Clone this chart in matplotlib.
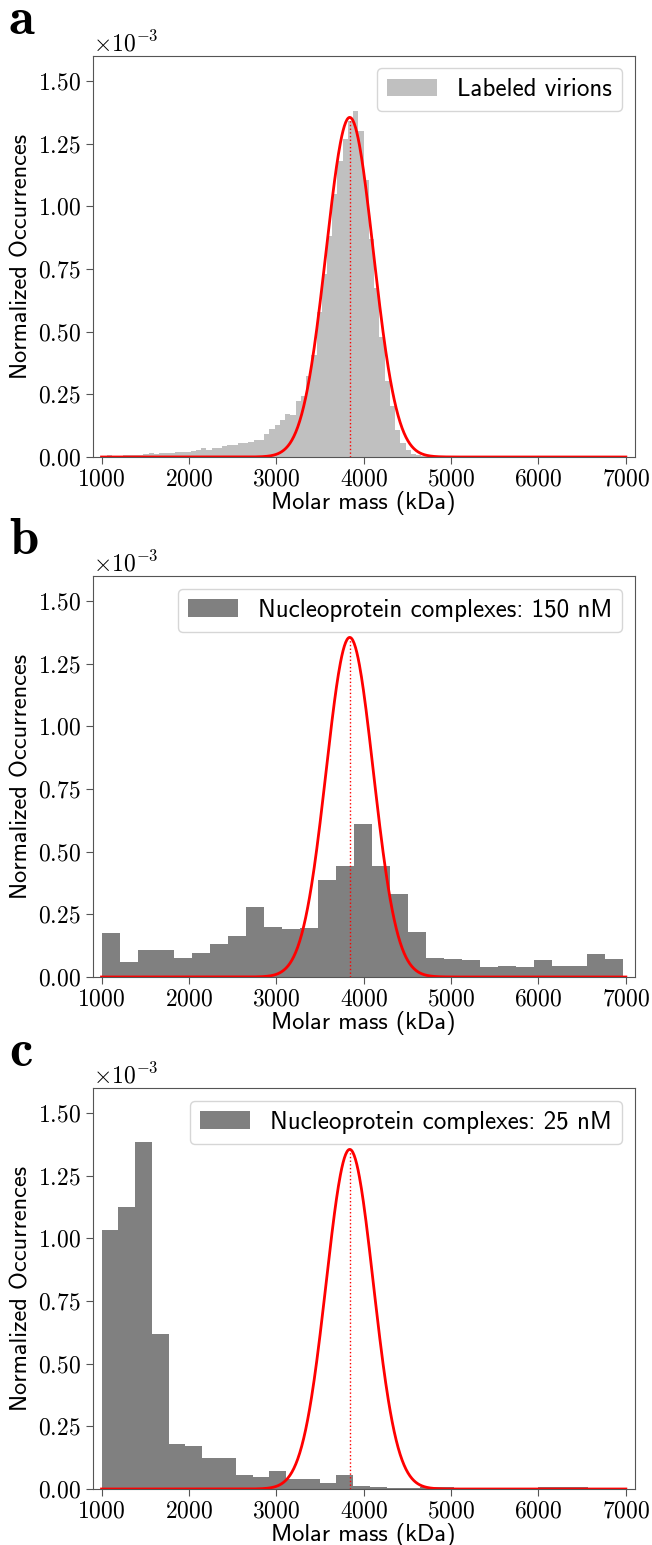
import numpy as np
import matplotlib
matplotlib.use("Agg")
import matplotlib.pyplot as plt
from matplotlib.ticker import ScalarFormatter

# histogram heights in units of 1e-3 (normalized occurrences)
SCALE = 1e-3

# a: labeled virions, 100 bins of 60 kDa from 1000 to 7000
virions = [0.005, 0.006, 0.005, 0.005, 0.006, 0.008, 0.008, 0.009, 0.012, 0.016,
           0.011, 0.016, 0.016, 0.017, 0.019, 0.019, 0.019, 0.024, 0.029, 0.035,
           0.028, 0.036, 0.036, 0.043, 0.048, 0.048, 0.057, 0.057, 0.058, 0.068,
           0.068, 0.092, 0.110, 0.129, 0.146, 0.172, 0.166, 0.222, 0.242, 0.325,
           0.405, 0.580, 0.730, 0.880, 1.050, 1.180, 1.270, 1.340, 1.380, 1.300,
           1.107, 0.868, 0.675, 0.479, 0.302, 0.202, 0.109, 0.056, 0.029, 0.013,
           0.006, 0.004, 0.003, 0.003, 0.002, 0.002, 0.003, 0.002, 0.002, 0.002,
           0.002, 0.002, 0.002, 0.002, 0.002, 0.001, 0.002, 0.002, 0.002, 0.001,
           0.002, 0.002, 0.001, 0.002, 0.002, 0.002, 0.001, 0.002, 0.002, 0.002,
           0.002, 0.004, 0.002, 0.002, 0.002, 0.002, 0.002, 0.002, 0.002, 0.002]
virions_range = (1000, 7000)

# b: nucleoprotein complexes 150 nM, 29 bins
np150 = [0.176, 0.061, 0.109, 0.109, 0.076, 0.097, 0.133, 0.165, 0.279, 0.201,
         0.190, 0.195, 0.388, 0.441, 0.610, 0.441, 0.331, 0.181, 0.077, 0.073,
         0.068, 0.041, 0.045, 0.041, 0.068, 0.045, 0.045, 0.093, 0.073]
np150_range = (1008, 6972)

# c: nucleoprotein complexes 25 nM, 29 bins
np25 = [1.033, 1.126, 1.383, 0.620, 0.178, 0.170, 0.124, 0.124, 0.055, 0.047,
        0.071, 0.039, 0.039, 0.023, 0.055, 0.013, 0.006, 0.005, 0.004, 0.008,
        0.008, 0.005, 0.005, 0.003, 0.003, 0.003, 0.007, 0.007, 0.007]
np25_range = (1000, 6568)

# gaussian fit of the virion peak
fit_mu = 3840
fit_sigma = 270
fit_amp = 1.355

panels = [
    ('a', virions, virions_range, 'silver', 'Labeled virions'),
    ('b', np150, np150_range, 'gray', 'Nucleoprotein complexes: 150 nM'),
    ('c', np25, np25_range, 'gray', 'Nucleoprotein complexes: 25 nM'),
]

plt.rcParams['mathtext.fontset'] = 'cm'
plt.rcParams['axes.formatter.use_mathtext'] = True
plt.rcParams['font.family'] = 'cmr10'
plt.rcParams['axes.unicode_minus'] = False
plt.rcParams['axes.edgecolor'] = '#555555'
plt.rcParams['xtick.color'] = '#555555'
plt.rcParams['ytick.color'] = '#555555'
plt.rcParams['xtick.labelcolor'] = 'black'
plt.rcParams['ytick.labelcolor'] = 'black'

FS = 17
fig = plt.figure(figsize=(6.52, 15.45), dpi=100)
H = 1545.0
W = 652.0
tops = [56, 576, 1088]
ax_h = 401

for (letter, vals, rng, color, label), top in zip(panels, tops):
    ax = fig.add_axes([92.8 / W, 1 - (top + ax_h) / H, (634.6 - 92.8) / W, ax_h / H])
    edges = np.linspace(rng[0], rng[1], len(vals) + 1)
    ax.hist(edges[:-1], bins=edges, weights=np.array(vals) * SCALE,
            color=color, label=label)
    xs = np.linspace(1000, 7000, 800)
    ys = fit_amp * SCALE * np.exp(-0.5 * ((xs - fit_mu) / fit_sigma) ** 2)
    ax.plot(xs, ys, color='red', lw=2)
    ax.vlines(fit_mu, 0, fit_amp * SCALE, colors='red', linestyles=':', lw=1)

    ax.set_xlim(900, 7100)
    ax.set_ylim(0, 1.6e-3)
    ax.set_xticks(np.arange(1000, 7001, 1000))
    ax.set_yticks(np.arange(0, 1.51e-3, 0.25e-3))
    fmt = ScalarFormatter(useMathText=True)
    fmt.set_powerlimits((0, 0))
    ax.yaxis.set_major_formatter(fmt)
    ax.tick_params(labelsize=FS, length=5)
    ax.yaxis.get_offset_text().set_fontsize(FS)

    ax.set_xlabel('Molar mass (kDa)', fontfamily='cmss10', fontsize=17.5, labelpad=0)
    ax.set_ylabel('Normalized Occurrences', fontfamily='cmss10', fontsize=17.5)
    ax.legend(loc='upper right', prop={'family': 'cmss10', 'size': 18})

    fig.text(9 / W, 1 - (top - 22) / H, letter, fontfamily='cmb10',
             fontsize=38, va='baseline', ha='left')

fig.savefig('out.png', dpi=100)
